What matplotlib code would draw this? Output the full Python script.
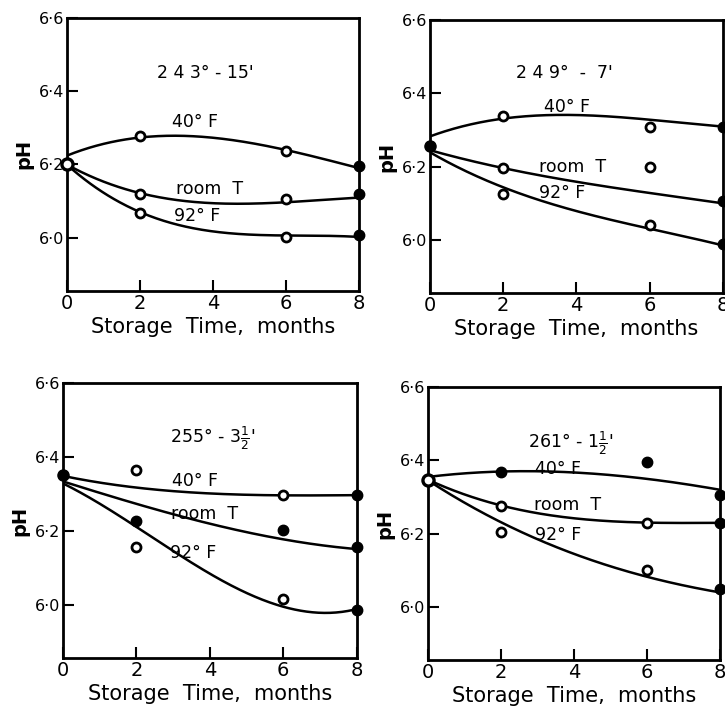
import matplotlib
matplotlib.use("Agg")
import matplotlib.pyplot as plt
from matplotlib.ticker import FuncFormatter
import numpy as np

# storage times
curve_months = [0, 2, 4, 6, 8]
point_months = [2, 6, 8]
series_names = ["40° F", "room  T", "92° F"]

# panel titles (processing temperature - time)
titles = ["2 4 3° - 15'", "2 4 9°  -  7'", r"255° - 3$\frac{1}{2}$'", r"261° - 1$\frac{1}{2}$'"]

# pH at start (month 0), one per panel
start_ph = [6.20, 6.256, 6.351, 6.348]
start_filled = [False, True, True, False]

# measured pH at months 2, 6, 8  (40F, room T, 92F) for each panel
p1_points = [[6.277, 6.238, 6.196], [6.120, 6.105, 6.120], [6.067, 6.003, 6.007]]
p2_points = [[6.339, 6.307, 6.309], [6.197, 6.200, 6.106], [6.125, 6.041, 5.990]]
p3_points = [[6.363, 6.296, 6.296], [6.226, 6.202, 6.156], [6.157, 6.016, 5.986]]
p4_points = [[6.369, 6.397, 6.307], [6.277, 6.230, 6.230], [6.205, 6.102, 6.050]]

# filled (True) or open (False) symbols for those points
p1_filled = [[False, False, True], [False, False, True], [False, False, True]]
p2_filled = [[False, False, True], [False, False, True], [False, False, True]]
p3_filled = [[False, False, True], [True, True, True], [False, False, True]]
p4_filled = [[True, True, True], [False, False, True], [False, False, True]]

# hand-drawn trend curves read at months 0, 2, 4, 6, 8
p1_curves = [[6.224, 6.274, 6.272, 6.240, 6.190],
             [6.200, 6.120, 6.097, 6.095, 6.110],
             [6.200, 6.067, 6.022, 6.003, 6.003]]
p2_curves = [[6.282, 6.332, 6.339, 6.329, 6.309],
             [6.245, 6.195, 6.160, 6.127, 6.100],
             [6.240, 6.140, 6.084, 6.027, 5.986]]
p3_curves = [[6.348, 6.317, 6.300, 6.296, 6.296],
             [6.333, 6.273, 6.218, 6.177, 6.150],
             [6.328, 6.209, 6.085, 5.993, 5.988]]
p4_curves = [[6.355, 6.370, 6.367, 6.350, 6.320],
             [6.348, 6.277, 6.243, 6.230, 6.230],
             [6.346, 6.232, 6.145, 6.083, 6.040]]

# label positions (month, pH) for title and series names
p1_labels = [(3.8, 6.45), (3.5, 6.317), (3.9, 6.133), (3.57, 6.058)]
p2_labels = [(3.67, 6.456), (3.74, 6.362), (3.9, 6.20), (3.6, 6.127)]
p3_labels = [(4.08, 6.45), (3.6, 6.335), (3.85, 6.246), (3.53, 6.14)]
p4_labels = [(3.9, 6.446), (3.57, 6.378), (3.82, 6.278), (3.57, 6.197)]

panels = [
    (p1_points, p1_filled, p1_curves, p1_labels),
    (p2_points, p2_filled, p2_curves, p2_labels),
    (p3_points, p3_filled, p3_curves, p3_labels),
    (p4_points, p4_filled, p4_curves, p4_labels),
]

rects = [
    [0.0924, 0.592, 0.4026, 0.383],
    [0.593, 0.589, 0.404, 0.383],
    [0.087, 0.077, 0.405, 0.386],
    [0.590, 0.074, 0.403, 0.383],
]

plt.rcParams['font.family'] = ['DejaVu Sans']
fig = plt.figure(figsize=(7.25, 7.13), dpi=100)

dot_fmt = FuncFormatter(lambda v, pos: f"{v:.1f}".replace('.', '·'))
xs = np.linspace(0, 8, 200)

for i, (points, filled, curves, labels) in enumerate(panels):
    ax = fig.add_axes(rects[i])
    for curve in curves:
        coef = np.polyfit(curve_months, curve, 3)
        ax.plot(xs, np.polyval(coef, xs), color='black', lw=1.8, zorder=2)
    for vals, fl in zip(points, filled):
        for m, v, f in zip(point_months, vals, fl):
            if f:
                ax.plot(m, v, 'o', ms=7.5, color='black', zorder=3, clip_on=False)
            else:
                ax.plot(m, v, 'o', ms=6.5, mfc='white', mec='black', mew=2.0,
                        zorder=3, clip_on=False)
    if start_filled[i]:
        ax.plot(0, start_ph[i], 'o', ms=8, color='black', zorder=3, clip_on=False)
    else:
        ax.plot(0, start_ph[i], 'o', ms=8, mfc='white', mec='black', mew=2.4,
                zorder=3, clip_on=False)

    ax.text(*labels[0], titles[i], ha='center', va='center', fontsize=12.5)
    for (lx, ly), name in zip(labels[1:], series_names):
        ax.text(lx, ly, name, ha='center', va='center', fontsize=12.5)

    ax.set_xlim(0, 8)
    ax.set_ylim(5.855, 6.6)
    ax.set_xticks([0, 2, 4, 6, 8])
    ax.set_yticks([6.0, 6.2, 6.4, 6.6])
    ax.yaxis.set_major_formatter(dot_fmt)
    ax.tick_params(direction='in', length=8, width=1.5, pad=2)
    ax.tick_params(axis='x', labelsize=14)
    ax.tick_params(axis='y', labelsize=11.5, pad=2)
    for s in ax.spines.values():
        s.set_linewidth(2)
    ax.set_ylabel("pH", fontsize=14, fontweight='bold', labelpad=4)
    ax.set_xlabel("Storage  Time,  months", fontsize=15, labelpad=3)

fig.savefig("out.png", dpi=100)
